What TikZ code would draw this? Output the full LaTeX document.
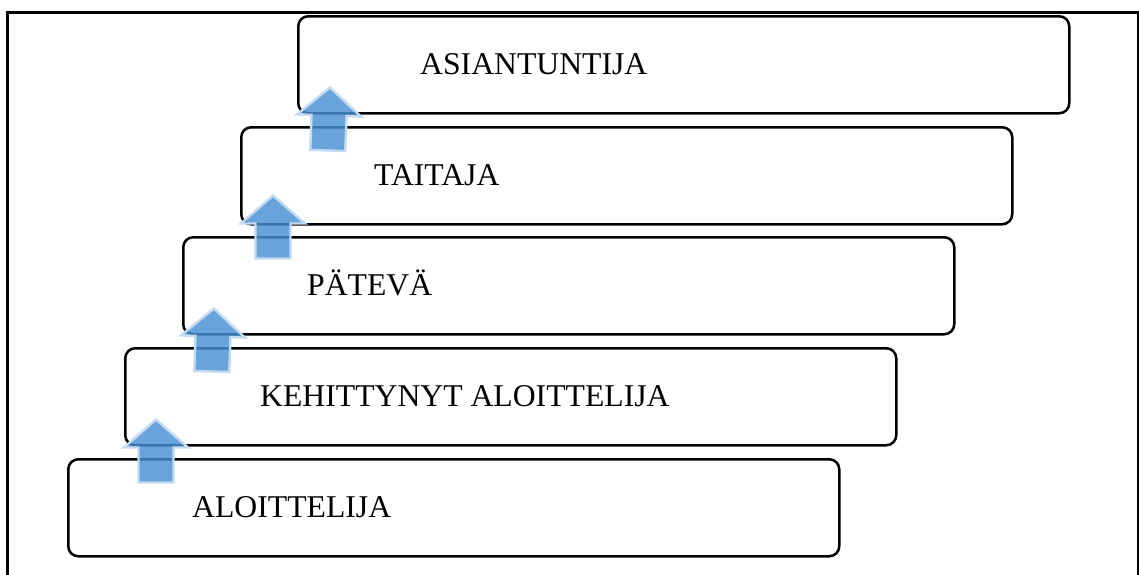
\documentclass[tikz,border=0pt]{standalone}
\usepackage{fontspec}
\setmainfont{Liberation Serif}
\definecolor{stepblue}{RGB}{71,143,211}
\definecolor{stepedge}{RGB}{196,218,240}
\tikzset{
  levelbox/.style={draw=black, line width=2.5pt, rounded corners=10pt, fill=none,
    anchor=north west, minimum width=771pt, minimum height=97pt, inner sep=0pt},
  leveltext/.style={anchor=base west, inner sep=0pt, font=\fontsize{31.7}{36}\selectfont},
  uparrow/.pic={
    \path[fill=stepblue, fill opacity=0.82, draw=stepedge, line width=2.4pt, line join=miter]
      (0,-28) -- (32,0) -- (17.5,0) -- (17.5,35) -- (-17.5,35) -- (-17.5,0) -- (-32,0) -- cycle;
  }
}
\begin{document}
\begin{tikzpicture}[x=1pt, y=-1pt]
  \useasboundingbox (0,0) rectangle (1139,574);
  % outer frame, open at the bottom edge of the page
  \begin{scope}
    \clip (0,0) rectangle (1139,574);
    \draw[line width=3pt] (7,590) -- (7,12) -- (1138,12) -- (1138,590);
  \end{scope}

  % the five levels, each one step up and to the right
  \node[levelbox] (b5) at (67,458) {};
  \node[levelbox] (b4) at (124,347) {};
  \node[levelbox] (b3) at (182,236) {};
  \node[levelbox] (b2) at (240,126) {};
  \node[levelbox] (b1) at (297,15) {};

  \node[leveltext] (t1) at (420,74.5) {ASIANTUNTIJA};
  \node[leveltext] (t2) at (374,185) {TAITAJA};
  \node[leveltext] (t3) at (307,295) {PÄTEVÄ};
  \node[leveltext] (t4) at (260,406) {KEHITTYNYT ALOITTELIJA};
  \node[leveltext] (t5) at (192,517) {ALOITTELIJA};

  % arrows climbing from one level to the next
  \coordinate (a1) at ([xshift=32pt,yshift=-1pt]b1.south west);
  \coordinate (a2) at ([xshift=33pt,yshift=2pt]b2.south west);
  \coordinate (a3) at ([xshift=31pt,yshift=-1pt]b3.south west);
  \coordinate (a4) at ([xshift=32pt,yshift=-1pt]b4.south west);
  \pic[rotate=-2] at (a1) {uparrow};
  \pic at (a2) {uparrow};
  \pic[rotate=-2] at (a3) {uparrow};
  \pic at (a4) {uparrow};
\end{tikzpicture}
\end{document}
